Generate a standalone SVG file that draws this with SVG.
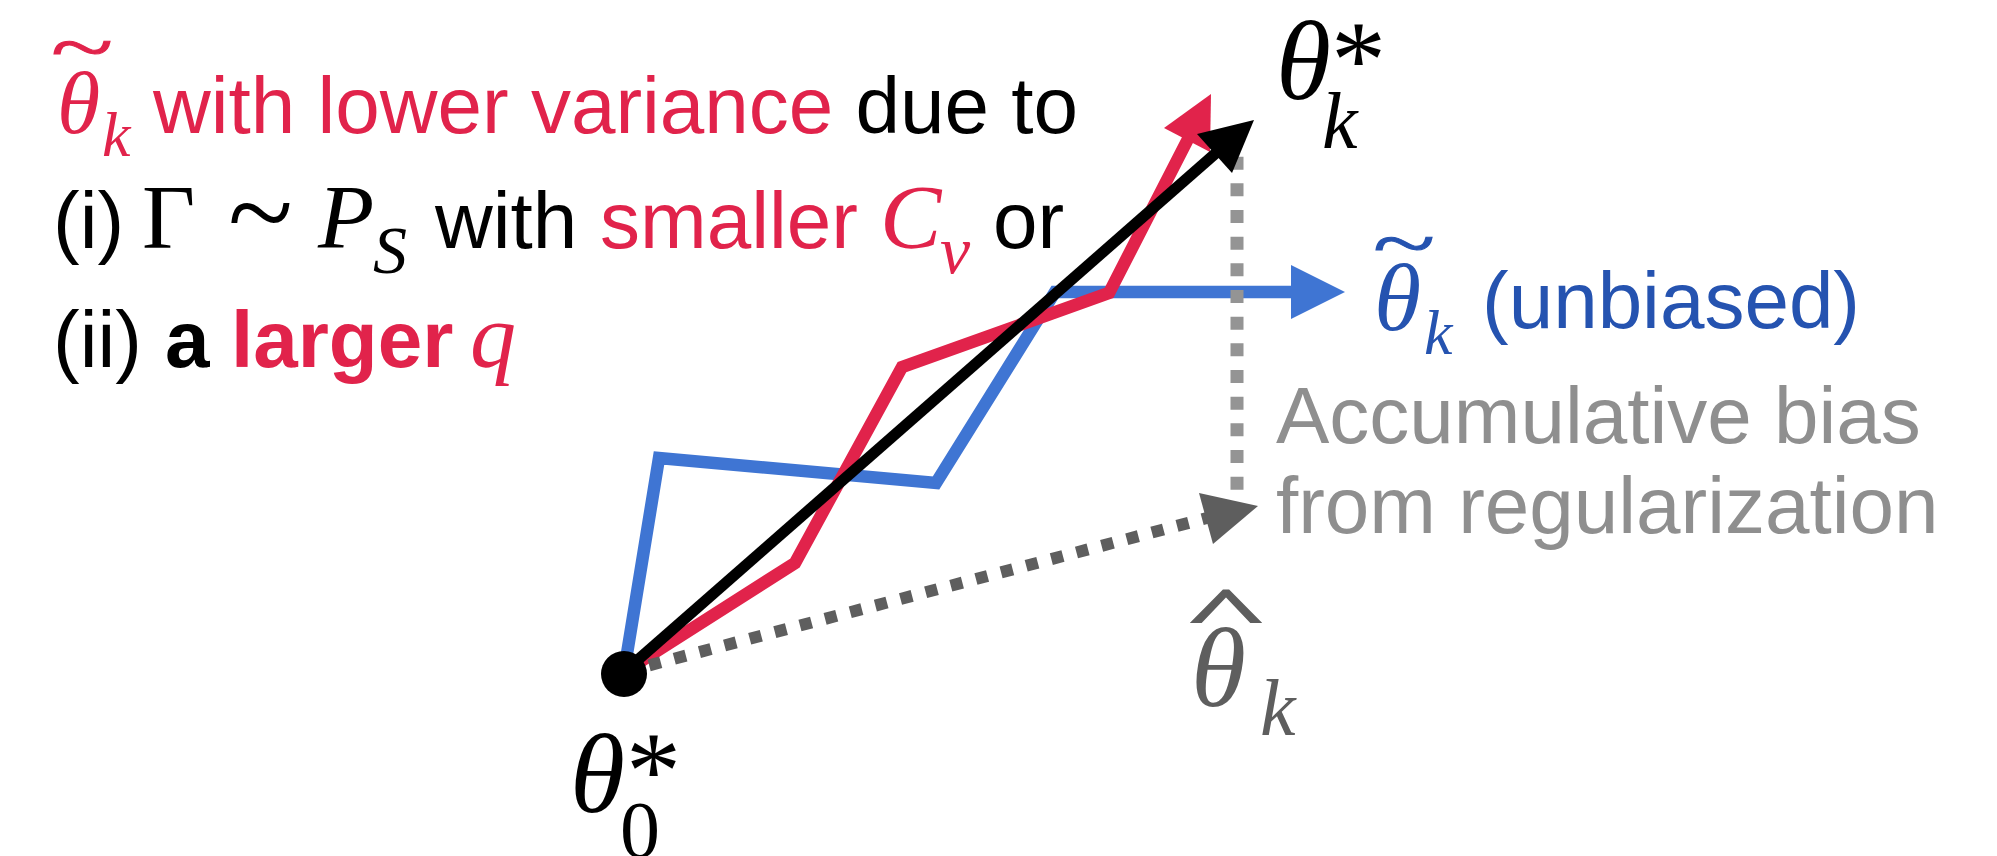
<svg xmlns="http://www.w3.org/2000/svg" width="1997" height="856" viewBox="0 0 1997 856">
<style>
.sans{font-family:"Liberation Sans",Arial,sans-serif;font-size:80px}
.bold{font-weight:bold}
.serif{font-family:"Liberation Serif","Times New Roman",serif}
.it{font-style:italic}
.red{fill:#e1234b}
.blk{fill:#000}
.bluet{fill:#2553b0}
.grayt{fill:#8f8f8f}
.dgray{fill:#5e5e5e}
</style>
<rect width="1997" height="856" fill="#fff"/>
<g id="connectors" fill="none" stroke-linejoin="miter" stroke-miterlimit="10">
  <polyline id="blue-path" points="624,672 659,458 936,483 1055,292 1292,292" stroke="#3f75d3" stroke-width="12.5"/>
  <polygon points="1345,292 1291,265 1291,319" fill="#3f75d3"/>
  <polyline id="red-path" points="624,672 795,563 902,367 1109,293 1188,139" stroke="#e1234b" stroke-width="12.5"/>
  <polygon points="1211,94 1164,128 1210,152" fill="#e1234b"/>
  <line id="bias-line" x1="1237" y1="130" x2="1237" y2="492" stroke="#949494" stroke-width="13" stroke-dasharray="13 13.67"/>
  <line id="reg-line" x1="624" y1="672" x2="1207" y2="518" stroke="#5e5e5e" stroke-width="12" stroke-dasharray="12 14"/>
  <polygon points="1258,506 1199,493 1213,544" fill="#5e5e5e"/>
  <line id="black-path" x1="624" y1="672" x2="1216" y2="153" stroke="#000" stroke-width="11"/>
  <polygon points="1254,120 1197,134 1232,173" fill="#000"/>
</g>
<g id="node-theta0">
  <circle cx="624" cy="674" r="23" fill="#000"/>
  <text class="serif it blk" x="570" y="812" font-size="112">θ</text>
  <text class="serif blk" x="626" y="808" font-size="110">*</text>
  <text class="serif blk" x="620" y="857" font-size="80">0</text>
</g>
<g id="node-thetak-star">
  <text class="serif it blk" x="1276" y="99" font-size="112">θ</text>
  <text class="serif blk" x="1331" y="97" font-size="110">*</text>
  <text class="serif it blk" x="1322" y="148" font-size="80">k</text>
</g>
<g id="node-theta-hat">
  <text class="serif dgray" transform="translate(1226,635) scale(1,0.45)" text-anchor="middle" font-size="150" stroke="#5e5e5e" stroke-width="4">^</text>
  <text class="serif it dgray" x="1191" y="706" font-size="112">θ</text>
  <text class="serif it dgray" x="1260" y="735" font-size="80">k</text>
</g>
<g id="node-theta-tilde">
  <text class="serif bluet" transform="translate(1373,268) scale(1,0.65)" font-size="115" stroke="#2553b0" stroke-width="1.5">~</text>
  <text class="serif it bluet" x="1374" y="330" font-size="96">θ</text>
  <text class="serif it bluet" x="1424" y="354" font-size="64">k</text>
  <text class="sans bluet" x="1482" y="328">(unbiased)</text>
</g>
<g id="node-bias-label">
  <text class="sans grayt" x="1276" y="443">Accumulative bias</text>
  <text class="sans grayt" x="1276" y="533">from regularization</text>
</g>
<g id="node-legend">
  <text class="serif red" transform="translate(51,72) scale(1,0.65)" font-size="115" stroke="#e1234b" stroke-width="1.5">~</text>
  <text class="serif it red" x="57" y="133" font-size="88">θ</text>
  <text class="serif it red" x="102" y="156" font-size="64">k</text>
  <text class="sans red" x="153" y="133">with lower variance<tspan class="blk"> due to</tspan></text>
  <text class="sans blk" x="53" y="248">(i)</text>
  <text class="serif blk" x="142" y="248" font-size="92">Γ</text>
  <text class="serif blk" x="228" y="253" font-size="120">~</text>
  <text class="serif it blk" x="318" y="248" font-size="92">P</text>
  <text class="serif it blk" x="373" y="273" font-size="68">S</text>
  <text class="sans blk" x="435" y="248">with</text>
  <text class="sans red" x="600" y="248">smaller</text>
  <text class="serif it red" x="880" y="248" font-size="92">C</text>
  <text class="serif it red" x="940" y="273" font-size="68">v</text>
  <text class="sans blk" x="993" y="248">or</text>
  <text class="sans blk" x="53" y="367">(ii)</text>
  <text class="sans bold blk" x="165" y="367">a</text>
  <text class="sans bold red" x="231" y="367">larger</text>
  <text class="serif it red" x="470" y="367" font-size="92">q</text>
</g>
</svg>
